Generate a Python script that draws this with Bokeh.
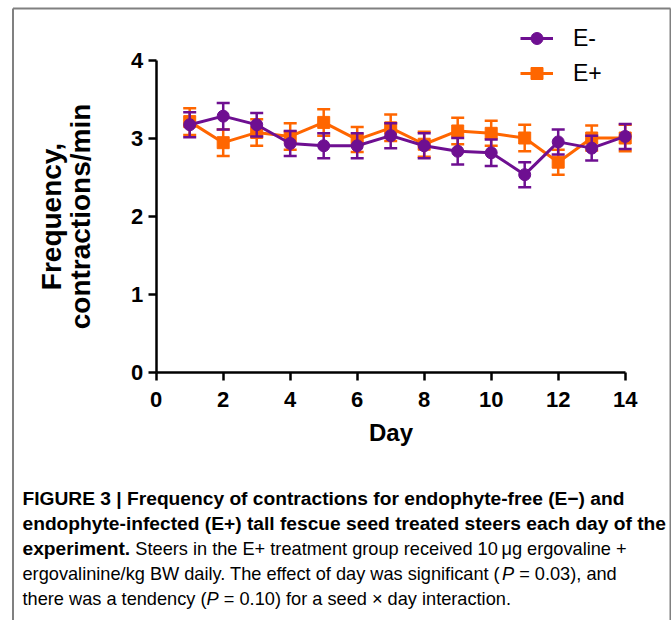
from bokeh.plotting import figure
from bokeh.models import Range1d, FixedTicker, Legend, LegendItem
from bokeh.embed import file_html
from bokeh.resources import INLINE
from bokeh.core.properties import value

# ---------------- data ----------------
days = [1, 2, 3, 4, 5, 6, 7, 8, 9, 10, 11, 12, 13, 14]
e_minus = [3.17, 3.28, 3.17, 2.93, 2.90, 2.90, 3.03, 2.90, 2.83, 2.81, 2.53, 2.95, 2.87, 3.02]
e_minus_sem = [0.16, 0.17, 0.15, 0.16, 0.16, 0.16, 0.16, 0.16, 0.17, 0.17, 0.16, 0.16, 0.16, 0.16]
e_plus = [3.21, 2.94, 3.07, 3.02, 3.20, 2.98, 3.13, 2.92, 3.09, 3.06, 3.00, 2.69, 3.00, 3.00]
e_plus_sem = [0.17, 0.17, 0.17, 0.17, 0.17, 0.16, 0.17, 0.16, 0.17, 0.16, 0.17, 0.16, 0.16, 0.17]
x_ticks = [0, 2, 4, 6, 8, 10, 12, 14]
y_ticks = [0, 1, 2, 3, 4]
series_labels = ["E-", "E+"]

caption_runs = [
    [("FIGURE 3 | Frequency of contractions for endophyte-free (E\u2212) and", "bold")],
    [("endophyte-infected (E+) tall fescue seed treated steers each day of the", "bold")],
    [("experiment.", "bold"), (" Steers in the E+ treatment group received 10\u2009\u03bcg ergovaline +", "normal")],
    [("ergovalinine/kg BW daily. The effect of day was significant (", "normal"), ("P", "italic"),
     (" = 0.03), and", "normal")],
    [("there was a tendency (", "normal"), ("P", "italic"), (" = 0.10) for a seed \u00d7 day interaction.", "normal")],
]

PURPLE = "#6E0F91"
ORANGE = "#FF6600"
GRAY = "#808080"
FONT = "Liberation Sans"

# ---------------- layout geometry (page pixels) ----------------
W, H = 671, 620
X0_PX, PX_PER_DAY = 155.7, 33.5      # where day 0 sits, pixels per day
Y0_PX, PX_PER_UNIT = 371.5, 78.0     # where 0 sits, pixels per unit

p = figure(width=W, height=H,
           x_range=Range1d(-X0_PX / PX_PER_DAY, (W - X0_PX) / PX_PER_DAY),
           y_range=Range1d(-(H - Y0_PX) / PX_PER_UNIT, Y0_PX / PX_PER_UNIT),
           output_backend="svg", toolbar_location=None,
           min_border_left=0, min_border_right=0, min_border_top=0, min_border_bottom=0)
p.extra_x_ranges = {"px": Range1d(0, W)}
p.extra_y_ranges = {"px": Range1d(H, 0)}
p.grid.visible = False
p.outline_line_color = None
p.background_fill_color = "white"
p.border_fill_color = "white"

for ax in (p.xaxis[0], p.yaxis[0]):
    ax.fixed_location = 0
    ax.axis_line_width = 2.5
    ax.axis_line_color = "black"
    ax.major_tick_line_width = 2.5
    ax.major_tick_line_color = "black"
    ax.major_tick_out = 8
    ax.major_tick_in = 0
    ax.minor_tick_out = 0
    ax.minor_tick_in = 0
    ax.major_label_text_font = FONT
    ax.major_label_text_font_style = "bold"
    ax.major_label_text_font_size = "22px"
    ax.major_label_text_color = "black"
    ax.axis_label_text_font = FONT
    ax.axis_label_text_font_style = "bold"
    ax.axis_label_text_color = "black"

p.xaxis.bounds = (x_ticks[0], x_ticks[-1])
p.yaxis.bounds = (y_ticks[0], y_ticks[-1])
p.xaxis.ticker = FixedTicker(ticks=x_ticks)
p.yaxis.ticker = FixedTicker(ticks=y_ticks)
p.xaxis.major_label_standoff = 12
p.yaxis.major_label_standoff = 5
p.xaxis.axis_label = "Day"
p.xaxis.axis_label_text_font_size = "24px"
p.xaxis.axis_label_standoff = 8
p.yaxis.axis_label = "Frequency,\ncontractions/min"
p.yaxis.axis_label_text_font_size = "28px"
p.yaxis.axis_label_text_line_height = 0.95
p.yaxis.axis_label_standoff = 32


def draw_series(vals, sem, color, marker):
    up = [v + s for v, s in zip(vals, sem)]
    lo = [v - s for v, s in zip(vals, sem)]
    p.segment(days, lo, days, up, line_color=color, line_width=2.5)
    p.scatter(days, up, marker="dash", size=13, line_color=color, line_width=2.5)
    p.scatter(days, lo, marker="dash", size=13, line_color=color, line_width=2.5)
    ln = p.line(days, vals, line_color=color, line_width=3)
    sc = p.scatter(days, vals, marker=marker, size=12, fill_color=color, line_color=color)
    return ln, sc


lp, sp = draw_series(e_plus, e_plus_sem, ORANGE, "square")
lm, sm = draw_series(e_minus, e_minus_sem, PURPLE, "circle")

legend = Legend(items=[LegendItem(label=series_labels[0], renderers=[lm, sm]),
                       LegendItem(label=series_labels[1], renderers=[lp, sp])],
                location=(520, H - 88), glyph_width=33, glyph_height=30, label_height=30,
                label_standoff=20, spacing=5, padding=0, margin=0,
                border_line_color=None, background_fill_alpha=0,
                label_text_font=FONT, label_text_font_size="23px", label_text_color="black")
p.add_layout(legend)

# figure box border (left, top, right)
p.segment(x0=[12.5, 12.5, 670], y0=[8, 8, 8], x1=[12.5, 670, 670], y1=[H, 8, H],
          line_color=GRAY, line_width=2, x_range_name="px", y_range_name="px")

# ---------------- caption ----------------
REG = dict(zip("abcdefghijklmnopqrstuvwxyz",
               [556, 556, 500, 556, 556, 278, 556, 556, 222, 222, 500, 222, 833, 556, 556, 556, 556, 333,
                500, 278, 556, 500, 722, 500, 500, 500]))
REG.update({" ": 278, "(": 333, ")": 333, ".": 278, ",": 278, "/": 278, "-": 333, "=": 584, "+": 584,
            "B": 667, "E": 667, "P": 667, "S": 667, "T": 611, "W": 944, "\u00d7": 584, "\u03bc": 556,
            "\u2009": 167})
REG.update({d: 556 for d in "0123456789"})
BOLD = dict(zip("abcdefghijklmnopqrstuvwxyz",
                [556, 611, 556, 611, 556, 333, 611, 611, 278, 278, 556, 278, 889, 611, 611, 611, 611, 389,
                 556, 333, 611, 556, 778, 556, 556, 500]))
BOLD.update({" ": 278, ".": 278})
SIZES = {"bold": 19.2, "normal": 18.2, "italic": 18.2}


def width(txt, style):
    tbl = BOLD if style == "bold" else REG
    return sum(tbl.get(c, 556) for c in txt) * SIZES[style] / 1000.0


x_start = 22
baselines = [498, 523, 548, 573, 598]
for runs, yb in zip(caption_runs, baselines):
    x = x_start
    for txt, style in runs:
        lead = len(txt) - len(txt.lstrip(" "))
        x += width(txt[:lead], style)
        t = txt.strip(" ")
        p.text(x=[x], y=[yb], text=[t], text_font=value(FONT),
               text_font_size=f"{SIZES[style]}px",
               text_font_style="bold" if style == "bold" else ("italic" if style == "italic" else "normal"),
               text_color="black", text_align="left", text_baseline="alphabetic",
               x_range_name="px", y_range_name="px")
        x += width(t, style) + width(txt[len(txt.rstrip(' ')):], style)

open("out.html", "w").write(file_html(p, INLINE))
